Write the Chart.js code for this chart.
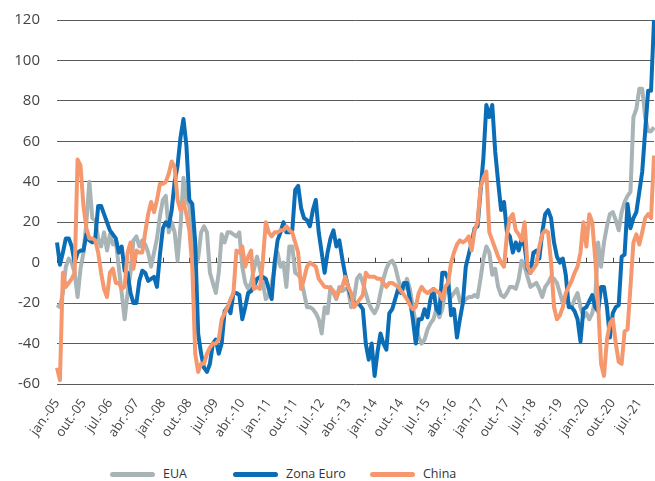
<!DOCTYPE html>
<html>
<head>
<meta charset="utf-8">
<script src="https://cdn.jsdelivr.net/npm/chart.js@4.4.1/dist/chart.umd.min.js"></script>
<style>
    body { margin: 0; background: #fff; font-family: 'Open Sans', sans-serif; overflow: hidden; }
    #wrap { position: relative; width: 655px; height: 455px; }
    #legend { list-style: none; margin: 0; padding: 0; position: absolute; top: 464px; left: 110px; display: flex; }
    #legend li { display: flex; align-items: center; font-size: 12.5px; line-height: 16px; color: #333; height: 20px; }
    #legend .swatch { display: inline-block; width: 45px; height: 5px; border-radius: 3px; margin-right: 8px; }
</style>
</head>
<body>
<div id="wrap"><canvas id="chart" width="655" height="455"></canvas></div>
<ul id="legend"></ul>
<script>
    const monthNames = ['jan.', 'fev.', 'mar.', 'abr.', 'mai.', 'jun.', 'jul.', 'ago.', 'set.', 'out.', 'nov.', 'dez.'];
    const years = ['05', '06', '07', '08', '09', '10', '11', '12', '13', '14', '15', '16', '17', '18', '19', '20', '21'];
    const labelStep = 9; // one label every 9 months (jan.-05, out.-05, jul.-06 ...)

    const seriesNames = ['EUA', 'Zona Euro', 'China'];
    const seriesColors = ['#a9b4b7', '#0b6db5', '#f5986d'];

    const eua = [
        -21, -22, -15, -2, 2, 0, -5, -17, -3, 5, 20, 40,
        22, 21, 12, 8, 15, 6, 14, 9, 11, -2, -15, -28,
        -15, -5, 11, 13, 8, 11, 9, 5, -2, 5, 12, 23,
        31, 33, 15, 20, 15, 1, 18, 42, 31, 28, 15, -2,
        2, 15, 18, 15, -5, -10, -15, -5, 14, 10, 15, 15,
        14, 13, 15, -2, -10, -13, -10, -3, 3, -3, -10, -18,
        -16, -10, -3, 5, -2, 0, -12, 8, 8, -5, -6, -8,
        -15, -22, -22, -23, -25, -28, -35, -22, -25, -12, -15, -18,
        -12, -14, -13, -13, -22, -18, -8, -6, -10, -15, -20, -23,
        -25, -22, -15, -8, -3, 0, 1, -2, -8, -13, -13, -8,
        -13, -22, -30, -37, -40, -38, -33, -30, -28, -23, -27, -23,
        -14, -14, -17, -15, -13, -19, -20, -18, -17, -17, -16, -17,
        -8, 2, 8, 5, -6, -3, -12, -16, -17, -15, -12, -12,
        -13, -8, 1, -2, -7, -12, -11, -10, -13, -17, -12, -10,
        -7, -8, -10, -15, -20, -18, -20, -22, -18, -15, -22, -27,
        -25, -28, -25, -18, 10, -2, 10, 18, 24, 25, 21, 16,
        25, 30, 33, 35, 72, 76, 86, 86, 72, 65, 65, 67
    ];
    const zonaEuro = [
        10, -1, 5, 12, 12, 8, 0, 5, 6, 6, 14, 11,
        10, 12, 28, 28, 24, 20, 16, 14, 12, 5, 8, -4,
        -5, -15, -20, -20, -9, -4, -5, -9, -8, -7, -12, 4,
        17, 20, 18, 26, 40, 48, 62, 71, 58, 31, 29, 10,
        -35, -45, -52, -54, -50, -40, -38, -45, -40, -24, -22, -25,
        -15, -15, -16, -28, -22, -15, -14, -12, -8, -7, -7, -8,
        -13, -18, 0, 11, 15, 20, 15, 15, 16, 36, 38, 27,
        22, 21, 18, 26, 31, 15, 5, -5, 5, 12, 16, 8,
        11, 2, -6, -12, -17, -20, -20, -21, -23, -40, -48, -40,
        -56, -44, -35, -40, -43, -25, -23, -18, -13, -15, -10, -10,
        -18, -28, -40, -28, -28, -23, -27, -18, -13, -23, -25, -5,
        -5, -8, -26, -23, -37, -28, -20, -2, 4, 10, 17, 18,
        35, 52, 78, 72, 78, 55, 40, 26, 30, 15, 13, 5,
        10, 6, 12, 8, -3, -5, 5, 6, 2, 15, 24, 26,
        22, 10, 3, 0, 2, -6, -22, -22, -24, -28, -39, -23,
        -22, -19, -16, -22, -24, -12, -12, -22, -37, -25, -22, -21,
        3, 4, 29, 17, 22, 25, 35, 45, 65, 85, 85, 120
    ];
    const china = [
        -52, -58, -5, -12, -10, -8, -5, 51, 48, 28, 17, 12,
        12, 11, 5, -5, -13, -17, -5, -3, -10, -10, -13, -12,
        5, 10, -3, 6, 5, 5, 15, 24, 30, 25, 31, 39,
        39, 40, 44, 50, 47, 31, 26, 30, 24, 16, -2, -45,
        -54, -50, -50, -45, -42, -40, -40, -38, -28, -25, -22, -18,
        -15, 6, 5, 8, -2, 3, 6, -13, -12, -13, 1, 20,
        15, 13, 15, 15, 16, 16, 18, 16, 15, 10, 5, -13,
        -8, -2, 0, -1, -2, -8, -10, -12, -12, -13, -14, -17,
        -14, -12, -7, -12, -15, -22, -20, -18, -16, -5, -7, -7,
        -7, -8, -8, -10, -12, -10, -10, -11, -12, -14, -16, -18,
        -21, -23, -22, -15, -12, -14, -15, -14, -13, -14, -15, -18,
        -12, -10, 0, 5, 9, 11, 10, 11, 13, 6, 16, 20,
        37, 42, 45, 15, 11, 7, 3, 0, -2, 14, 22, 24,
        16, 14, 11, 20, -2, -5, -3, -1, 8, 14, 16, 15,
        0, -22, -28, -26, -22, -15, -12, -9, -5, -2, 5, 20,
        8, 24, 20, 2, -20, -50, -56, -38, -30, -28, -40, -49,
        -50, -34, -33, -12, 10, 14, 9, 15, 22, 24, 22, 53
    ];

    const labels = [];
    years.forEach(y => monthNames.forEach(m => labels.push(m + '-' + y)));

    // small tick marks sitting on the zero line, like the original
    const zeroTicks = {
        id: 'zeroTicks',
        beforeDatasetsDraw(chart) {
            const { ctx, scales: { x, y } } = chart;
            const y0 = y.getPixelForValue(0);
            ctx.save();
            ctx.strokeStyle = '#444';
            ctx.lineWidth = 1;
            for (let i = 0; i < labels.length; i += labelStep) {
                const px = Math.round(x.getPixelForValue(i)) + 0.5;
                ctx.beginPath();
                ctx.moveTo(px, y0 - 5);
                ctx.lineTo(px, y0);
                ctx.stroke();
            }
            ctx.restore();
        }
    };

    const allSeries = [eua, zonaEuro, china];

    new Chart(document.getElementById('chart'), {
        type: 'line',
        data: {
            labels: labels,
            datasets: allSeries.map((d, i) => ({
                label: seriesNames[i],
                data: d,
                borderColor: seriesColors[i],
                backgroundColor: seriesColors[i],
                borderWidth: 4,
                borderJoinStyle: 'round',
                pointRadius: 0,
                tension: 0,
                order: 2 - i // China on top
            }))
        },
        options: {
            responsive: false,
            animation: false,
            layout: { padding: { top: 20, right: 1, left: 0, bottom: 0 } },
            plugins: {
                legend: { display: false }, // html legend below
                tooltip: { enabled: false }
            },
            scales: {
                x: {
                    grid: { display: false },
                    border: { display: false },
                    ticks: {
                        autoSkip: false,
                        maxRotation: 55,
                        minRotation: 55,
                        padding: 4,
                        color: '#444',
                        font: { family: 'Open Sans', size: 13 },
                        callback: (v, i) => (i % labelStep === 0 ? labels[i] : null)
                    },
                    afterFit: scale => {
                        scale.height = 71;
                        scale.paddingLeft = 0;
                        scale.paddingRight = 0;
                    }
                },
                y: {
                    min: -60,
                    max: 120,
                    ticks: {
                        stepSize: 20,
                        padding: 17,
                        color: '#444',
                        font: { family: 'Open Sans', size: 15 }
                    },
                    grid: { color: '#5a5a5a', lineWidth: 1, drawTicks: false },
                    border: { display: false },
                    afterFit: scale => {
                        scale.width = 57;
                        scale.paddingTop = 0;
                        scale.paddingBottom = 0;
                    }
                }
            }
        },
        plugins: [zeroTicks]
    });

    // custom html legend
    const legendUl = document.getElementById('legend');
    const itemWidths = [123, 137, null];
    seriesNames.forEach((name, i) => {
        const li = document.createElement('li');
        if (itemWidths[i]) li.style.width = itemWidths[i] + 'px';
        li.innerHTML = `<span class="swatch" style="background:${seriesColors[i]}"></span><span>${name}</span>`;
        legendUl.appendChild(li);
    });
</script>
</body>
</html>
